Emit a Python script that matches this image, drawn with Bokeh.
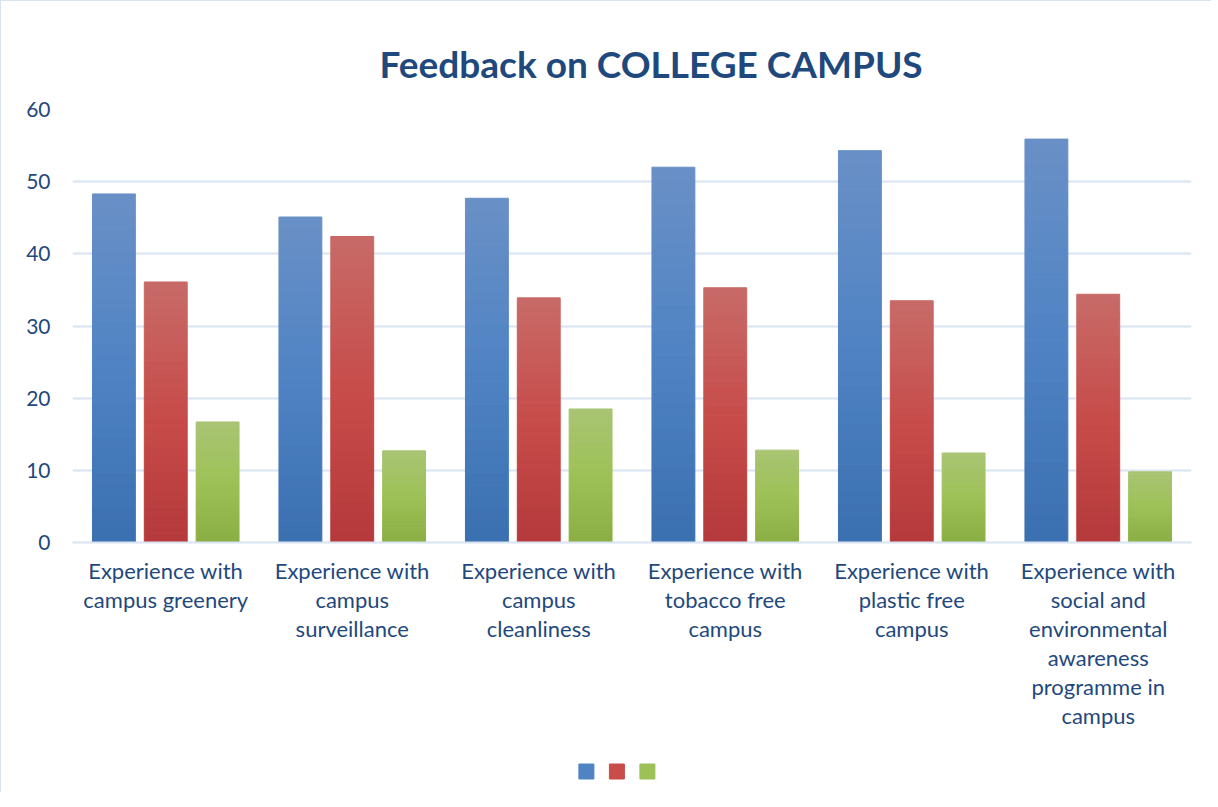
from bokeh.plotting import figure
from bokeh.models import ColumnDataSource, FactorRange, Title, Range1d
from bokeh.layouts import column
from bokeh.transform import dodge
from bokeh.embed import file_html
from bokeh.resources import INLINE

categories = [
    "Experience with\ncampus greenery",
    "Experience with\ncampus\nsurveillance",
    "Experience with\ncampus\ncleanliness",
    "Experience with\ntobacco free\ncampus",
    "Experience with\nplastic free\ncampus",
    "Experience with\nsocial and\nenvironmental\nawareness\nprogramme in\ncampus",
]
series_1 = [48.3, 45.1, 47.7, 52.0, 54.3, 55.9]
series_2 = [36.1, 42.4, 33.9, 35.3, 33.5, 34.4]
series_3 = [16.7, 12.7, 18.5, 12.8, 12.4, 9.8]
y_ticks = [0, 10, 20, 30, 40, 50, 60]

# gradient stops (bottom, middle, top)
grad = [
    ("#3A6FB0", "#4F83C4", "#6A90C6"),
    ("#B5393A", "#C74C4A", "#C76B68"),
    ("#8AAE44", "#9DC156", "#A9C474"),
]
offsets = [-0.278, 0.0, 0.278]
N = 30


def hex2rgb(h):
    h = h.lstrip("#")
    return tuple(int(h[i:i + 2], 16) for i in (0, 2, 4))


def mix(c1, c2, t):
    a, b = hex2rgb(c1), hex2rgb(c2)
    return "#%02x%02x%02x" % tuple(int(round(a[k] + (b[k] - a[k]) * t)) for k in range(3))


def color_at(stops, t):
    if t < 0.5:
        return mix(stops[0], stops[1], t / 0.5)
    return mix(stops[1], stops[2], (t - 0.5) / 0.5)


p = figure(
    x_range=FactorRange(*categories, range_padding=0),
    y_range=(0, 60),
    frame_width=1119,
    frame_height=433,
    output_backend="svg",
    toolbar_location=None,
    min_border_left=71,
    min_border_right=20,
    min_border_top=108,
    min_border_bottom=0,
)

for s, vals in enumerate([series_1, series_2, series_3]):
    xs, bots, tops, cols = [], [], [], []
    for c, v in zip(categories, vals):
        for i in range(N):
            xs.append(c)
            bots.append(v * i / N)
            tops.append(v * (i + 1) / N)
            cols.append(color_at(grad[s], (i + 0.5) / N))
    src = ColumnDataSource(dict(x=xs, bottom=bots, top=tops, color=cols))
    p.vbar(
        x=dodge("x", offsets[s], range=p.x_range),
        bottom="bottom",
        top="top",
        width=0.23,
        source=src,
        fill_color="color",
        line_color="color",
        line_width=1,
    )

p.add_layout(Title(text="Feedback on COLLEGE CAMPUS", align="left", offset=307,
                   text_font="Lato", text_font_size="37px", text_font_style="bold",
                   text_color="#1F497D", standoff=48), "above")

p.xgrid.grid_line_color = None
p.ygrid.grid_line_color = "#D9E4F3"
p.ygrid.grid_line_width = 2
p.ygrid.ticker = y_ticks
p.yaxis.ticker = y_ticks
p.yaxis.axis_line_color = None
p.yaxis.major_tick_line_color = None
p.yaxis.minor_tick_line_color = None
p.yaxis.major_label_text_font = "Lato"
p.yaxis.major_label_text_font_size = "21px"
p.yaxis.major_label_text_color = "#1F497D"
p.yaxis.major_label_standoff = 16

p.xaxis.axis_line_color = "#D9E4F3"
p.xaxis.axis_line_width = 2
p.xaxis.major_tick_line_color = None
p.xaxis.minor_tick_line_color = None
p.xaxis.major_label_text_font = "Lato"
p.xaxis.major_label_text_font_size = "22px"
p.xaxis.major_label_text_color = "#1F497D"
p.xaxis.major_label_text_line_height = 1.08
p.xaxis.major_label_standoff = 8
p.xaxis.major_label_orientation = "horizontal"
p.outline_line_color = None

# legend strip: one unlabeled colour key per series (the source chart has no series names)
series_index = [0, 1, 2]
key_colors = [stops[1] for stops in grad]
q = figure(
    x_range=Range1d(-16.85, 19.84), y_range=Range1d(-0.35, 0.65),
    frame_width=1119, frame_height=60,
    output_backend="svg", toolbar_location=None,
    min_border_left=71, min_border_right=20, min_border_top=0, min_border_bottom=0,
)
q.axis.visible = False
q.grid.grid_line_color = None
q.outline_line_color = None
q.scatter(x=series_index, y=[0, 0, 0], marker="square", size=15,
          fill_color=key_colors, line_color=key_colors)

layout = column(p, q, spacing=0)
layout.styles = {"border-left": "1.5px solid #D9E4F3", "border-top": "1.5px solid #D9E4F3"}

open("out.html", "w").write(file_html(layout, INLINE))
